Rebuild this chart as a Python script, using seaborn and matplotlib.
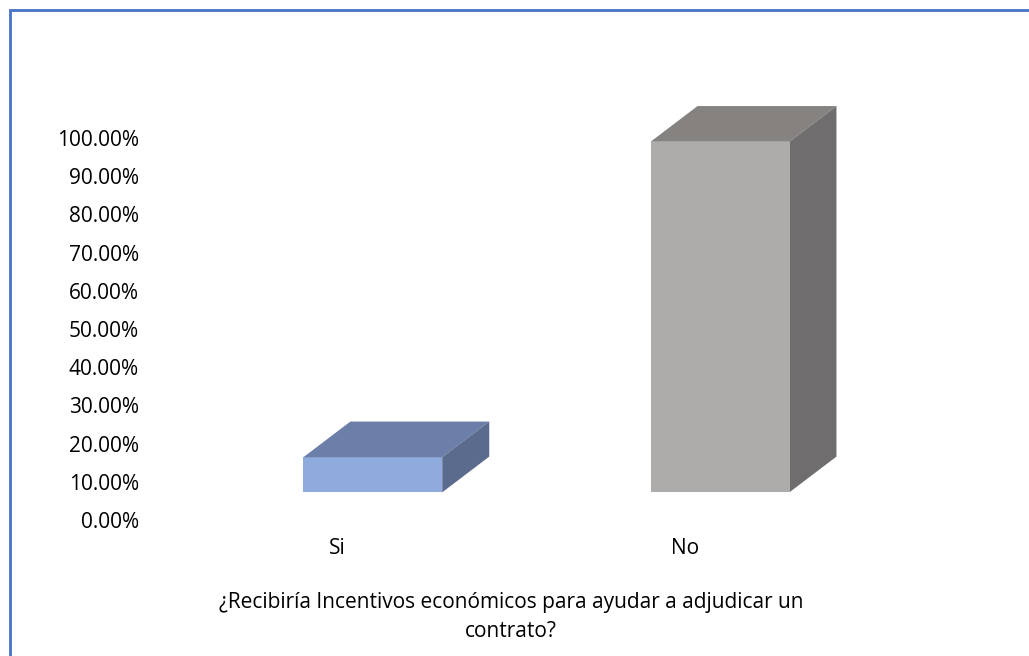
import matplotlib
matplotlib.use('Agg')
import matplotlib.pyplot as plt
import seaborn as sns
import pandas as pd
from matplotlib.patches import Polygon, Rectangle
from matplotlib.ticker import FuncFormatter

# data
respuestas = ['Si', 'No']
porcentajes = [0.0909, 0.9091]
yticks = [i / 10 for i in range(11)]
titulo = '¿Recibiría Incentivos económicos para ayudar a adjudicar un\ncontrato?'

# colours of the three visible faces
frente = ['#8FAADC', '#AEABAB']
techo = ['#6C7FA8', '#858280']
lado = ['#5B6B8D', '#6F6D6D']

sns.set_style('white')
plt.rcParams['font.family'] = ['Open Sans', 'DejaVu Sans']
FS = 15

W, H = 1029, 656
fig = plt.figure(figsize=(W / 100, H / 100), dpi=100)


def rect(left, bottom, width, height):
    # pixel box (bottom measured from the top of the image) -> figure fraction
    return [left / W, (H - bottom) / H, width / W, height / H]


# axis used only for the labels (front edge of the "floor")
ax_lab = fig.add_axes(rect(164, 520, 694.4, 382))
ax_lab.set_xlim(-0.5, 1.5)
ax_lab.set_ylim(0, 1)
ax_lab.set_xticks([0, 1])
ax_lab.set_xticklabels(respuestas)
ax_lab.set_yticks(yticks)
ax_lab.yaxis.set_major_formatter(FuncFormatter(lambda v, p: f'{v * 100:.2f}%'))
ax_lab.tick_params(axis='y', length=0, pad=18, labelsize=FS, colors='#000000')
ax_lab.tick_params(axis='x', length=0, pad=13, labelsize=FS, colors='#000000')
ax_lab.patch.set_visible(False)
for s in ax_lab.spines.values():
    s.set_visible(False)

# axis with the bars
df = pd.DataFrame({'respuesta': respuestas, 'porcentaje': porcentajes})
ax = fig.add_axes(rect(199.2, 492.3, 694.4, 385.6))
sns.barplot(data=df, x='respuesta', y='porcentaje', hue='respuesta',
            palette=frente, saturation=1, width=0.4, linewidth=0,
            legend=False, ax=ax)
ax.set_xlim(-0.5, 1.5)
ax.set_ylim(0, 1)
ax.axis('off')

# depth of the 3D boxes, in pixels, turned into data units
o = ax.transData.transform((0, 0))
d = ax.transData.inverted().transform(o + [47, 35.7])
ddx, ddy = d[0], d[1]

bars = sorted(ax.patches, key=lambda p: p.get_x())
for i, bar in enumerate(bars):
    x0 = bar.get_x()
    x1 = x0 + bar.get_width()
    h = bar.get_height()
    top = Polygon([(x0, h), (x1, h), (x1 + ddx, h + ddy), (x0 + ddx, h + ddy)],
                  closed=True, facecolor=techo[i], edgecolor='none', clip_on=False)
    side = Polygon([(x1, 0), (x1, h), (x1 + ddx, h + ddy), (x1 + ddx, ddy)],
                   closed=True, facecolor=lado[i], edgecolor='none', clip_on=False)
    ax.add_patch(top)
    ax.add_patch(side)

fig.text(511 / W, 1 - 617 / H, titulo, ha='center', va='center', color='#000000',
         multialignment='center', fontsize=FS, linespacing=1.45)

# chart area border (only left and top show in the image)
fig.patches.append(Rectangle((9.5 / W, -0.5), 2, (H - 9.5) / H + 0.5,
                             transform=fig.transFigure, fill=False,
                             edgecolor='#4472C4', linewidth=2))

fig.savefig('out.png', dpi=100)
